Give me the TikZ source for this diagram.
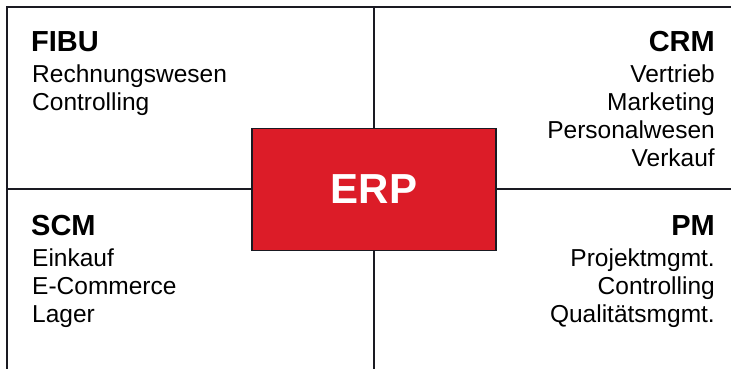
\documentclass[tikz,border=0pt]{standalone}
\usepackage{fontspec}
\setmainfont{Liberation Sans}
\definecolor{erpred}{RGB}{220,28,40}
\definecolor{linegray}{RGB}{26,26,34}
\tikzset{
  frame/.style={draw=linegray, line width=2pt},
  areatitle/.style={inner sep=0pt, font=\fontsize{29}{31}\selectfont\bfseries},
  areatext/.style={inner sep=0pt, font=\fontsize{24.5}{28}\selectfont},
}
\begin{document}
\begin{tikzpicture}[x=1pt,y=-1pt]
                \useasboundingbox (0,0) rectangle (731,369);
                \coordinate (tl) at (7,7);
                \coordinate (tr) at (731,7);
                \coordinate (bl) at (7,369);
                \coordinate (ml) at (7,189);
                \coordinate (mr) at (731,189);
                \coordinate (mt) at (374,7);
                \coordinate (mb) at (374,369);

                \draw[frame] (tr) -- (tl) -- (bl);
                \draw[frame] (ml) -- (mr);
                \draw[frame] (mt) -- (mb);

                \node (erp) at (374,189.5) [fill=erpred, draw=linegray, line width=1.5pt,
                    minimum width=244pt, minimum height=122pt, text=white,
                    font=\fontsize{42}{44}\selectfont\bfseries] {ERP};

                % titles sit on their baselines, the lists hang from their top
                \node (fibu) at (31,52) [areatitle, anchor=base west] {FIBU};
                \node (fibutxt) at (32,64.3) [areatext, anchor=north west, align=left] {Rechnungswesen\\Controlling};
                \node (crm) at (715,52) [areatitle, anchor=base east] {CRM};
                \node (crmtxt) at (715,64.3) [areatext, anchor=north east, align=right] {Vertrieb\\Marketing\\Personalwesen\\Verkauf};
                \node (scm) at (31,235) [areatitle, anchor=base west] {SCM};
                \node (scmtxt) at (32,248.3) [areatext, anchor=north west, align=left] {Einkauf\\E-Commerce\\Lager};
                \node (pm) at (715,235) [areatitle, anchor=base east] {PM};
                \node (pmtxt) at (715,248.3) [areatext, anchor=north east, align=right] {Projektmgmt.\\Controlling\\Qualitätsmgmt.};
            \end{tikzpicture}
\end{document}
